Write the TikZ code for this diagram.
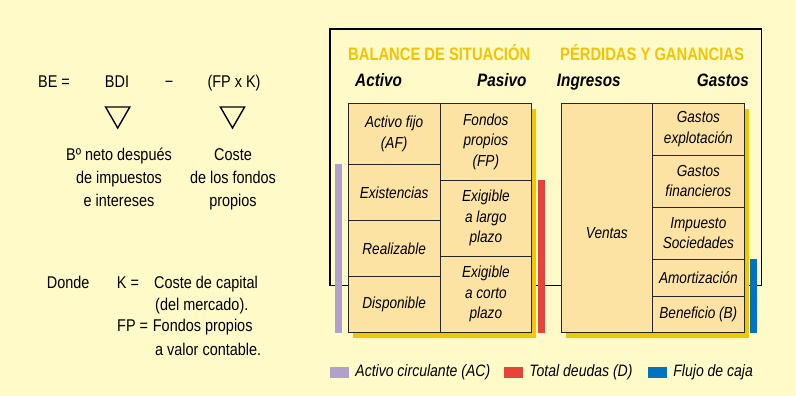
\documentclass[tikz,border=0pt]{standalone}
\usepackage{fontspec}
\setmainfont{Liberation Sans}[FakeStretch=0.85]
\newfontfamily\headfont{Liberation Sans}[FakeStretch=0.82]
\usetikzlibrary{shapes.geometric,positioning}
\definecolor{paper}{HTML}{FFFAC8}
\definecolor{cellfill}{HTML}{FDE3A3}
\definecolor{shadow}{HTML}{F0C800}
\definecolor{headgold}{HTML}{F5C400}
\definecolor{lilac}{HTML}{B0A0CC}
\definecolor{debtred}{HTML}{E4443A}
\definecolor{cashblue}{HTML}{0072BE}

\begin{document}
\begin{tikzpicture}[x=1pt,y=-1pt,
    cell/.style={draw=black!85,line width=0.9pt,fill=cellfill,anchor=north west,inner sep=0pt,outer sep=0pt,align=center,font=\fontsize{16}{20.5}\selectfont\itshape},
    head/.style={anchor=base west,inner sep=0pt,text=headgold,font=\headfont\fontsize{18}{20}\selectfont\bfseries},
    colhead/.style={inner sep=0pt,font=\fontsize{18}{20}\selectfont\bfseries\itshape},
    txt/.style={inner sep=0pt,font=\fontsize{17}{23}\selectfont},
    tri/.style={regular polygon,regular polygon sides=3,shape border rotate=180,draw,line width=1.4pt,inner sep=0pt,minimum size=28pt},
    swatch/.style={inner sep=0pt,minimum width=19pt,minimum height=11.6pt},
    legtxt/.style={inner sep=0pt,font=\fontsize{16.5}{20}\selectfont\itshape}]
    \useasboundingbox[fill=paper] (0,0) rectangle (796,396);

    \node[txt,anchor=base west] (be) at (38,87.3) {BE =};
    \node[txt,anchor=base] (bdi) at (117,87.3) {BDI};
    \node[txt,anchor=base] (minus) at (169,87.3) {−};
    \node[txt,anchor=base] (fpk) at (234,87.3) {(FP x K)};
    \node[tri] (t1) at (117.7,114) {};
    \node[tri] (t2) at (232.5,114) {};
    \node[txt,anchor=base,align=center] (bdinote) at (119,206) {Bº neto después\\de impuestos\\e intereses};
    \node[txt,anchor=base,align=center] (fpknote) at (233,206) {Coste\\de los fondos\\propios};

    \node[txt,anchor=base west] (donde) at (46.7,288) {Donde};
    \node[txt,anchor=base west] (keq) at (116.7,288) {K =};
    \node[txt,anchor=base west] (kdef) at (154,288) {Coste de capital};
    \node[txt,anchor=base west] (kdef2) at (155,310) {(del mercado).};
    \node[txt,anchor=base west] (fpeq) at (117,331.7) {FP =};
    \node[txt,anchor=base west] (fpdef) at (152.7,331.7) {Fondos propios};
    \node[txt,anchor=base west] (fpdef2) at (155,355) {a valor contable.};

    \draw[line width=1.3pt] (330,29) rectangle (761.7,285.7);

    \node[head] (balance) at (348,60.7) {BALANCE DE SITUACIÓN};
    \node[head] (pyg) at (560,60.7) {PÉRDIDAS Y GANANCIAS};
    \node[colhead,anchor=base west] (activo) at (355,86.7) {Activo};
    \node[colhead,anchor=base east] (pasivo) at (526.7,86.7) {Pasivo};
    \node[colhead,anchor=base west] (ingresos) at (556.7,86.7) {Ingresos};
    \node[colhead,anchor=base east] (gastos) at (749,86.7) {Gastos};

    \fill[shadow] (352.8,109.3) rectangle (536.2,338.3);
    \fill[shadow] (565.5,109.3) rectangle (748.5,338.3);

    \node[cell,minimum width=91.7pt,minimum height=61pt] (af) at (348.3,103.3) {Activo fijo\\(AF)};
    \node[cell,minimum width=91.7pt,minimum height=56pt] (ex) at (af.south west) {Existencias};
    \node[cell,minimum width=91.7pt,minimum height=56pt] (real) at (ex.south west) {Realizable};
    \node[cell,minimum width=91.7pt,minimum height=56pt] (disp) at (real.south west) {Disponible};
    \node[cell,minimum width=91.7pt,minimum height=76.7pt] (fp) at (af.north east) {Fondos\\propios\\(FP)};
    \node[cell,minimum width=91.7pt,minimum height=76.3pt] (elp) at (fp.south west) {Exigible\\a largo\\plazo};
    \node[cell,minimum width=91.7pt,minimum height=76pt] (ecp) at (elp.south west) {Exigible\\a corto\\plazo};

    \node[cell,minimum width=91.7pt,minimum height=229pt] (ventas) at (561,103.3) {};
    \node[cell,minimum width=91.3pt,minimum height=52pt] (gexp) at (ventas.north east) {Gastos\\explotación};
    \node[cell,minimum width=91.3pt,minimum height=51.7pt] (gfin) at (gexp.south west) {Gastos\\financieros};
    \node[cell,minimum width=91.3pt,minimum height=52pt] (imp) at (gfin.south west) {Impuesto\\Sociedades};
    \node[cell,minimum width=91.3pt,minimum height=37.3pt] (amort) at (imp.south west) {Amortización};
    \node[cell,minimum width=91.3pt,minimum height=36pt] (benef) at (amort.south west) {Beneficio (B)};
    \node[cell,draw=none,fill=none,anchor=center] (ventastxt) at (ventas.center |- imp.center) {Ventas};

    \fill[lilac] (335,164.3) rectangle (342,332.7);
    \fill[debtred] (538.3,180) rectangle (545,332.7);
    \fill[cashblue] (750,259) rectangle (757,332.7);

    \node[swatch,fill=lilac] (sw1) at (339.5,372.5) {};
    \node[legtxt,right=6pt of sw1] (leg1) {Activo circulante (AC)};
    \node[swatch,fill=debtred] (sw2) at (513.5,372.5) {};
    \node[legtxt,right=6pt of sw2] (leg2) {Total deudas (D)};
    \node[swatch,fill=cashblue] (sw3) at (657.5,372.5) {};
    \node[legtxt,right=6pt of sw3] (leg3) {Flujo de caja};
\end{tikzpicture}
\end{document}
